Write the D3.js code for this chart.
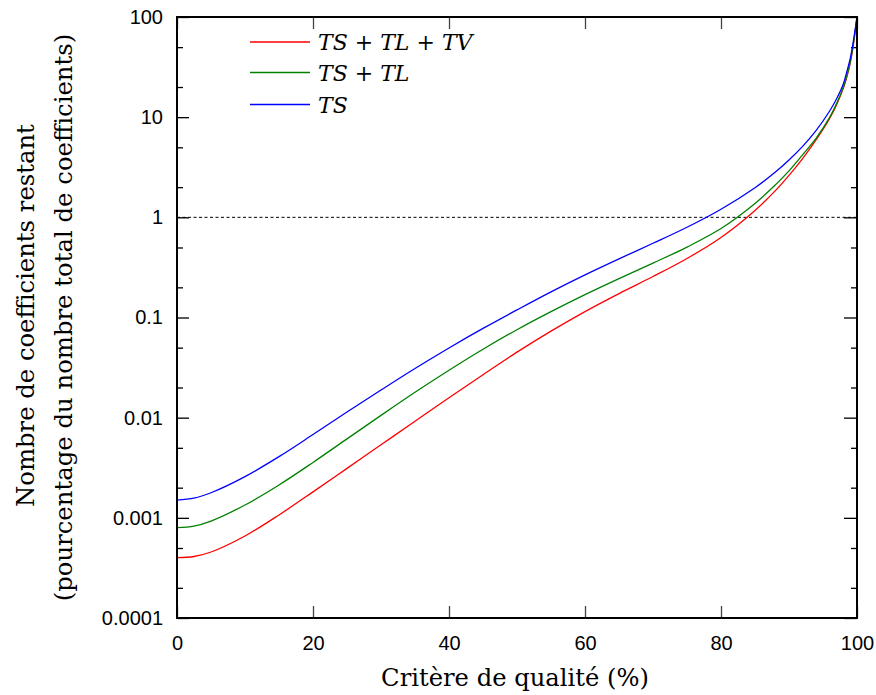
<!DOCTYPE html>
<html><head><meta charset="utf-8">
<script src="https://cdn.jsdelivr.net/npm/d3@7"></script>
<style>body{margin:0;background:#fff}</style>
</head><body>
<svg id="c" width="876" height="695"></svg>
<script>
const xTicks = [0, 20, 40, 60, 80, 100];
const yTicks = [0.0001, 0.001, 0.01, 0.1, 1, 10, 100];
const yTickLabels = ["0.0001", "0.001", "0.01", "0.1", "1", "10", "100"];
const criteria = [0, 2.5, 5, 10, 15, 20, 25, 30, 35, 40, 45, 50, 55, 60, 65, 70, 75, 80, 85, 88, 90, 92, 94, 96, 97, 98, 98.5, 99, 99.5, 100];
const tsTlTv = [0.0004, 0.000411, 0.000456, 0.000659, 0.001069, 0.001816, 0.003119, 0.005358, 0.009204, 0.01581, 0.02685, 0.04508, 0.07311, 0.1146, 0.1734, 0.2564, 0.3882, 0.6295, 1.172, 1.849, 2.624, 3.864, 5.957, 9.772, 13.34, 19.50, 25.12, 34.67, 54.95, 100];
const tsTl = [0.0008, 0.000828, 0.000929, 0.001343, 0.002128, 0.003573, 0.006138, 0.01054, 0.01791, 0.02972, 0.04819, 0.07551, 0.1143, 0.169, 0.2443, 0.3491, 0.5047, 0.7727, 1.374, 2.109, 2.911, 4.207, 6.166, 10.0, 13.65, 19.95, 25.7, 35.48, 56.23, 100];
const ts = [0.0015, 0.00157, 0.00178, 0.00258, 0.00408, 0.00678, 0.01138, 0.01888, 0.03097, 0.04966, 0.0778, 0.1191, 0.1803, 0.2667, 0.3855, 0.5508, 0.7962, 1.205, 1.977, 2.831, 3.733, 5.105, 7.379, 11.59, 15.28, 21.58, 28.44, 38.37, 59.43, 100];
const seriesNames = ["TS + TL + TV", "TS + TL", "TS"];
const seriesColors = ["#ff0000", "#008000", "#0000ff"];
const refLine = 1;
const xTitle = "Critère de qualité (%)";
const yTitle1 = "Nombre de coefficients restant";
const yTitle2 = "(pourcentage du nombre total de coefficients)";

const SERIF = "'DejaVu Serif', 'Liberation Serif', serif";
const SANS = "'Liberation Sans', Arial, sans-serif";

const svg = d3.select("#c");
const L = 177, R = 857, T = 17, B = 618;
const x = d3.scaleLinear().domain([0, 100]).range([L, R]);
const y = d3.scaleLog().domain([0.0001, 100]).range([B, T]);

const minor = [];
for (let e = -4; e < 2; e++) { minor.push(2 * Math.pow(10, e)); minor.push(5 * Math.pow(10, e)); }

function styleTicks(s, col) { s.select(".domain").remove(); s.selectAll("line").attr("stroke", col).attr("stroke-width", 1.3); }

const g = svg.append("g");
const gl = g.append("g").attr("transform", `translate(${L},0)`)
  .call(d3.axisLeft(y).tickValues(yTicks).tickFormat((d, i) => yTickLabels[i]).tickSizeInner(-12).tickSizeOuter(0).tickPadding(14))
  .call(s => styleTicks(s, "#000"));
gl.selectAll("text").attr("font-family", SANS).attr("font-size", 20).attr("fill", "#000");
g.append("g").attr("transform", `translate(${L},0)`).call(d3.axisLeft(y).tickValues(minor).tickFormat("").tickSizeInner(-6).tickSizeOuter(0)).call(s => styleTicks(s, "#000"));
g.append("g").attr("transform", `translate(${R},0)`).call(d3.axisRight(y).tickValues(yTicks).tickFormat("").tickSizeInner(-13).tickSizeOuter(0)).call(s => styleTicks(s, "#000"));
g.append("g").attr("transform", `translate(${R},0)`).call(d3.axisRight(y).tickValues(minor).tickFormat("").tickSizeInner(-6).tickSizeOuter(0)).call(s => styleTicks(s, "#000"));
const gb = g.append("g").attr("transform", `translate(0,${B})`)
  .call(d3.axisBottom(x).tickValues(xTicks).tickSizeInner(-12).tickSizeOuter(0).tickPadding(18))
  .call(s => styleTicks(s, "#444"));
gb.selectAll("text").attr("font-family", SANS).attr("font-size", 20).attr("fill", "#000");
g.append("g").attr("transform", `translate(0,${T})`).call(d3.axisTop(x).tickValues(xTicks).tickFormat("").tickSizeInner(-12).tickSizeOuter(0)).call(s => styleTicks(s, "#444"));

svg.append("line").attr("x1", x(0)).attr("x2", x(100)).attr("y1", y(refLine)).attr("y2", y(refLine))
  .attr("stroke", "#000").attr("stroke-width", 1).attr("stroke-dasharray", "3,2.5");

const data = [tsTlTv, tsTl, ts];
const line = d3.line().x(d => x(d[0])).y(d => y(d[1])).curve(d3.curveCatmullRom.alpha(0.5));
data.forEach((vals, i) => {
  svg.append("path").datum(criteria.map((c, j) => [c, vals[j]]))
    .attr("d", line).attr("fill", "none").attr("stroke", seriesColors[i]).attr("stroke-width", 1.3);
});

svg.append("rect").attr("x", L).attr("y", T).attr("width", R - L).attr("height", B - T)
  .attr("fill", "none").attr("stroke", "#000").attr("stroke-width", 2);

function fit(t, target) {
  const w = t.node().getComputedTextLength();
  const fs = parseFloat(t.attr("font-size"));
  if (w > 0) t.attr("font-size", fs * target / w);
}

const legY = [42, 72.5, 104.5];
seriesNames.forEach((name, i) => {
  svg.append("line").attr("x1", 250).attr("x2", 310).attr("y1", legY[i]).attr("y2", legY[i])
    .attr("stroke", seriesColors[i]).attr("stroke-width", 1.3);
  const t = svg.append("text").attr("x", 318).attr("y", legY[i] + 8)
    .attr("font-family", SERIF).attr("font-size", 22).attr("fill", "#000");
  name.split(" ").forEach((tok, k) => {
    if (k > 0) t.append("tspan").text(" ");
    t.append("tspan").text(tok).attr("font-style", tok === "+" ? "normal" : "italic");
  });
});

const xt = svg.append("text").attr("x", (L + R) / 2 - 2).attr("y", 686).attr("text-anchor", "middle")
  .attr("font-family", SERIF).attr("font-size", 24).attr("fill", "#000").text(xTitle);
fit(xt, 268);
const yt1 = svg.append("text").attr("transform", `translate(34,${(T + B) / 2 - 2}) rotate(-90)`).attr("text-anchor", "middle")
  .attr("font-family", SERIF).attr("font-size", 24).attr("fill", "#000").text(yTitle1);
fit(yt1, 383);
const yt2 = svg.append("text").attr("transform", `translate(72,${(T + B) / 2}) rotate(-90)`).attr("text-anchor", "middle")
  .attr("font-family", SERIF).attr("font-size", 24).attr("fill", "#000").text(yTitle2);
fit(yt2, 568);
</script>
</body></html>
